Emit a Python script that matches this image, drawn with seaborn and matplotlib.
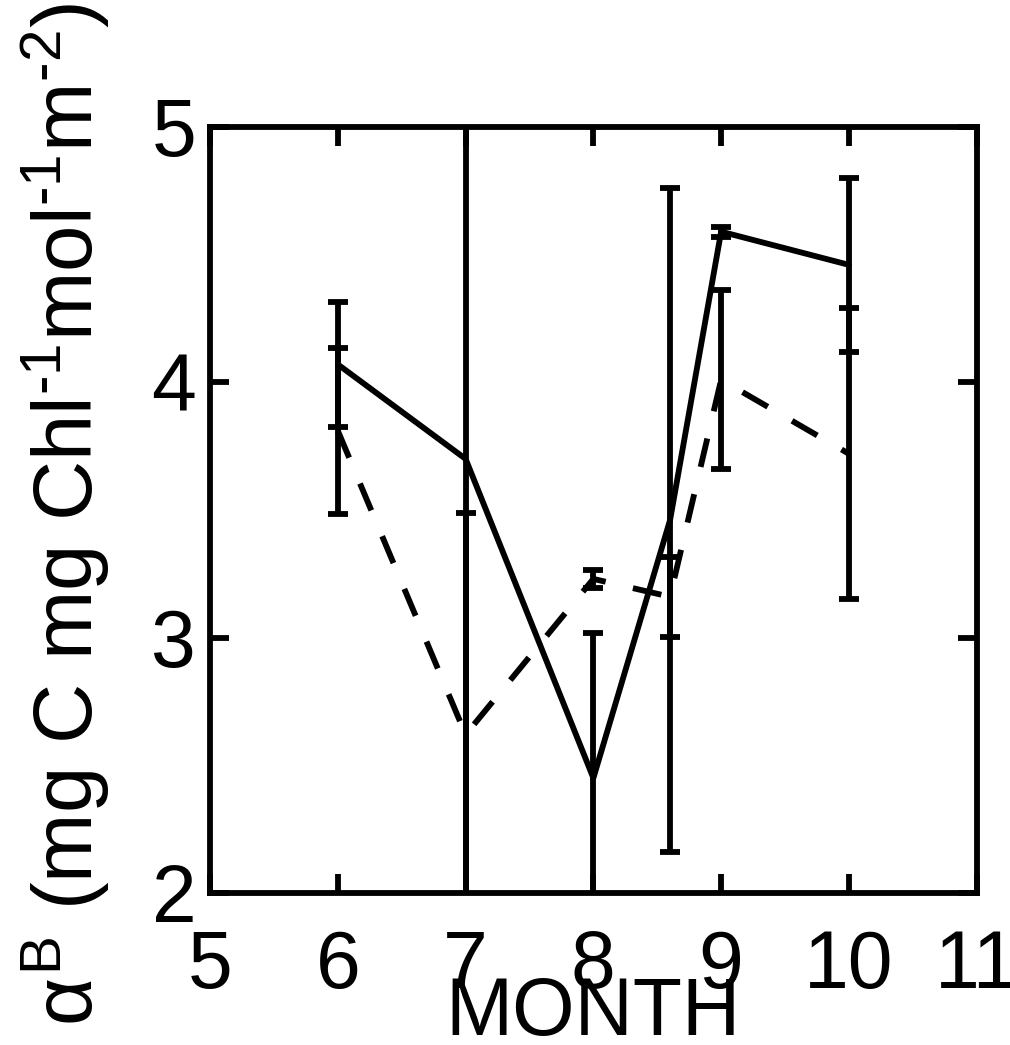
import matplotlib
matplotlib.use("Agg")
import pandas as pd
import matplotlib.pyplot as plt
import seaborn as sns

# monthly alpha^B values, two series (solid / dashed) with +- errors
months = [6, 7, 8, 8.6, 9, 10]
alpha_solid = [4.07, 3.70, 2.45, 3.46, 4.59, 4.46]
err_solid = [0.245, 1.90, 0.57, 1.30, 0.02, 0.34]
alpha_dashed = [3.81, 2.62, 3.23, 3.16, 4.01, 3.72]
err_dashed = [0.325, 0.87, 0.035, 0.157, 0.35, 0.57]

xticks = [5, 6, 7, 8, 9, 10, 11]
yticks = [2, 3, 4, 5]

sns.set_style("ticks")
plt.rcParams["font.family"] = ["Liberation Sans", "DejaVu Sans"]
plt.rcParams["mathtext.fontset"] = "custom"
plt.rcParams["mathtext.rm"] = "Liberation Sans"
plt.rcParams["mathtext.it"] = "Liberation Sans"
plt.rcParams["text.color"] = "black"
plt.rcParams["axes.labelcolor"] = "black"

df = pd.DataFrame({
    "month": months + months,
    "alpha": alpha_solid + alpha_dashed,
    "series": ["solid"] * len(months) + ["dashed"] * len(months),
})

lw = 4.2
fig = plt.figure(figsize=(10.1, 10.45), dpi=100)
ax = fig.add_axes([0.208, 0.1455, 0.759, 0.733])

sns.lineplot(data=df, x="month", y="alpha", style="series",
             dashes={"solid": "", "dashed": (5.0, 4.8)},
             color="black", linewidth=lw, legend=False, sort=False, ax=ax)
ax.errorbar(months, alpha_solid, yerr=err_solid, fmt="none", ecolor="black",
            elinewidth=lw, capsize=7, capthick=lw)
ax.errorbar(months, alpha_dashed, yerr=err_dashed, fmt="none", ecolor="black",
            elinewidth=lw, capsize=7, capthick=lw)

ax.set_xlim(5, 11)
ax.set_ylim(2, 5)
ax.set_xticks(xticks)
ax.set_yticks(yticks)
ax.set_xticklabels([str(t) for t in xticks])
ax.set_yticklabels([str(t) for t in yticks])

for sp in ax.spines.values():
    sp.set_visible(True)
    sp.set_linewidth(lw)
    sp.set_color("black")

ax.tick_params(axis="both", direction="in", length=14, width=lw,
               top=True, right=True, labelsize=58, colors="black")
ax.tick_params(axis="y", pad=10)
ax.tick_params(axis="x", pad=26)

ax.set_xlabel("MONTH", fontsize=58)
ax.xaxis.set_label_coords(0.5, -0.108)
ax.set_ylabel(r"$\alpha^{\mathrm{B}}$ (mg C mg Chl$^{\text{-}1}$mol$^{\text{-}1}$m$^{\text{-}2}$)",
              fontsize=60)
ax.yaxis.set_label_coords(-0.128, 0.495)

fig.savefig("out.png", dpi=100)
